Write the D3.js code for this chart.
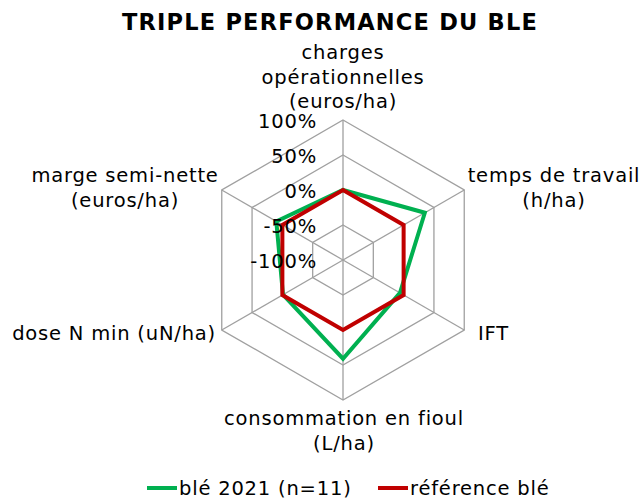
<!DOCTYPE html>
<html>
<head>
<meta charset="utf-8">
<script src="https://cdn.jsdelivr.net/npm/d3@7"></script>
<style>
  body { margin: 0; background: #fff; }
  text { font-family: "DejaVu Sans", Verdana, sans-serif; fill: #000; }
</style>
</head>
<body>
<div id="chart"></div>
<script>
// axes of the radar, clockwise from top
const axes = [
  ["charges", "opérationnelles", "(euros/ha)"],
  ["temps de travail", "(h/ha)"],
  ["IFT"],
  ["consommation en fioul", "(L/ha)"],
  ["dose N min (uN/ha)"],
  ["marge semi-nette", "(euros/ha)"]
];
const ticks = [-100, -50, 0, 50, 100];
const ble2021 = [0, 35, -6, 41, -1, 10];
const refBle = [0, 0, 0, 0, 0, 0];
const seriesNames = ["blé 2021 (n=11)", "référence blé"];
const colors = ["#00b050", "#c00000"];

const width = 640, height = 499;
const cx = 343, cy = 260;

const svg = d3.select("#chart").append("svg")
  .attr("width", width).attr("height", height);

const r = d3.scaleLinear().domain([-100, 100]).range([0, 140]);
const angle = i => i * Math.PI * 2 / axes.length;
const pt = (i, v) => [cx + r(v) * Math.sin(angle(i)), cy - r(v) * Math.cos(angle(i))];

// title
svg.append("text")
  .attr("x", 330).attr("y", 30)
  .attr("text-anchor", "middle")
  .style("font-size", "22.5px").style("font-weight", "bold")
  .style("letter-spacing", "1.2px")
  .text("TRIPLE PERFORMANCE DU BLE");

const g = svg.append("g");

// rings
ticks.slice(1).forEach(t => {
  g.append("polygon")
    .attr("points", axes.map((a, i) => pt(i, t).join(",")).join(" "))
    .attr("fill", "none").attr("stroke", "#a0a0a0").attr("stroke-width", 1.3);
});
// spokes
axes.forEach((a, i) => {
  const p = pt(i, 100);
  g.append("line")
    .attr("x1", cx).attr("y1", cy).attr("x2", p[0]).attr("y2", p[1])
    .attr("stroke", "#a0a0a0").attr("stroke-width", 1.3);
});

// series
const line = d3.line().curve(d3.curveLinearClosed);
[ble2021, refBle].forEach((s, k) => {
  g.append("path")
    .attr("d", line(s.map((v, i) => pt(i, v))))
    .attr("fill", "none").attr("stroke", colors[k])
    .attr("stroke-width", 4).attr("stroke-linejoin", "miter");
});

// tick labels
ticks.forEach(t => {
  g.append("text")
    .attr("x", cx - 26).attr("y", cy - r(t) + 8)
    .attr("text-anchor", "end")
    .style("font-size", "19.5px").style("letter-spacing", "0.8px")
    .text(t + "%");
});

// axis labels
const labelPos = [
  { x: 343, y: 59, anchor: "middle" },
  { x: 554, y: 182, anchor: "middle" },
  { x: 478, y: 340, anchor: "start" },
  { x: 344, y: 425, anchor: "middle" },
  { x: 216, y: 340, anchor: "end" },
  { x: 125, y: 182, anchor: "middle" }
];
axes.forEach((a, i) => {
  const t = svg.append("text")
    .attr("text-anchor", labelPos[i].anchor)
    .style("font-size", "19.5px").style("letter-spacing", "0.8px");
  a.forEach((l, j) => {
    t.append("tspan").attr("x", labelPos[i].x).attr("y", labelPos[i].y + j * 24.5).text(l);
  });
});

// legend
const legX = [147, 378];
seriesNames.forEach((n, k) => {
  svg.append("line")
    .attr("x1", legX[k]).attr("x2", legX[k] + 30)
    .attr("y1", 488).attr("y2", 488)
    .attr("stroke", colors[k]).attr("stroke-width", 4);
  svg.append("text")
    .attr("x", legX[k] + 32).attr("y", 495)
    .style("font-size", "19.5px").style("letter-spacing", "0.8px")
    .text(n);
});
</script>
</body>
</html>
